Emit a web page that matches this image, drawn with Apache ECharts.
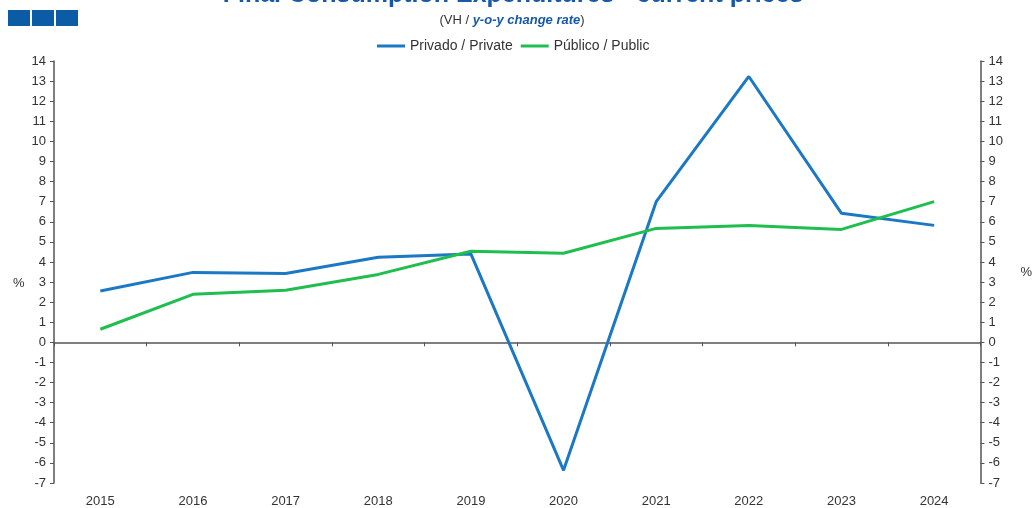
<!DOCTYPE html>
<html>
<head>
<meta charset="utf-8">
<script src="https://cdn.jsdelivr.net/npm/echarts@6/dist/echarts.min.js"></script>
<style>
html, body { margin: 0; padding: 0; background: #fff; }
#chart { width: 1035px; height: 508px; }
</style>
</head>
<body>
<div id="chart"></div>
<script>
// data
const years = ['2015', '2016', '2017', '2018', '2019', '2020', '2021', '2022', '2023', '2024'];
const privado = [2.55, 3.48, 3.43, 4.23, 4.4, -6.37, 7.0, 13.23, 6.42, 5.82];
const publico = [0.65, 2.39, 2.59, 3.38, 4.53, 4.43, 5.67, 5.82, 5.62, 7.0];
const yMin = -7, yMax = 14, yStep = 1;

var myChart = echarts.init(document.getElementById('chart'));
const font = 'Liberation Sans, Arial, sans-serif';

const yAxisBase = {
    type: 'value',
    min: yMin,
    max: yMax,
    interval: yStep,
    nameLocation: 'middle',
    nameRotate: 0,
    splitLine: { show: false },
    axisLine: { show: true, lineStyle: { color: '#555', width: 1.5 } },
    axisTick: { show: true, length: 4, lineStyle: { color: '#555' } },
    axisLabel: { color: '#333', fontSize: 13, fontFamily: font, margin: 8 }
};

myChart.setOption({
    animation: false,
    title: [
        {
            text: 'Final Consumption Expenditures - current prices',
            left: 508,
            textAlign: 'center',
            top: -22,
            textStyle: { color: '#1659a6', fontSize: 25, fontWeight: 'bold', fontFamily: font }
        },
        {
            text: '{a|(VH / }{b|y-o-y change rate}{a|)}',
            left: 507,
            textAlign: 'center',
            top: 9,
            textStyle: {
                rich: {
                    a: { color: '#333', fontSize: 13, fontFamily: font, fontWeight: 'normal' },
                    b: { color: '#1659a6', fontSize: 13, fontFamily: font, fontWeight: 'bold', fontStyle: 'italic' }
                }
            }
        }
    ],
    graphic: [
        { type: 'rect', shape: { x: 8, y: 10, width: 22, height: 16 }, style: { fill: '#0b5ca5' } },
        { type: 'rect', shape: { x: 32, y: 10, width: 22, height: 16 }, style: { fill: '#0b5ca5' } },
        { type: 'rect', shape: { x: 56, y: 10, width: 22, height: 16 }, style: { fill: '#0b5ca5' } },
        {
            type: 'text', left: 13, top: 277,
            style: { text: '%', fill: '#333', font: '13px ' + font }
        }
    ],
    legend: {
        top: 34,
        left: 372,
        itemWidth: 28,
        itemHeight: 3,
        itemGap: 8,
        icon: 'rect',
        textStyle: { color: '#333', fontSize: 14, fontFamily: font }
    },
    grid: {
        left: 54,
        right: 52,
        top: 61,
        bottom: 25
    },
    xAxis: [
        {
            type: 'category',
            data: years,
            boundaryGap: true,
            axisLine: { onZero: true, lineStyle: { color: '#555', width: 1.5 } },
            axisTick: { show: true, length: 4, lineStyle: { color: '#555' } },
            axisLabel: { show: false }
        },
        {
            type: 'category',
            data: years,
            position: 'bottom',
            boundaryGap: true,
            axisLine: { show: false, onZero: false },
            axisTick: { show: false },
            axisLabel: { color: '#333', fontSize: 13, fontFamily: font, margin: 12 }
        }
    ],
    yAxis: [
        Object.assign({}, yAxisBase, { position: 'left' }),
        Object.assign({}, yAxisBase, {
            position: 'right',
            name: '%',
            nameGap: 40,
            nameTextStyle: { color: '#333', fontSize: 13, fontFamily: font }
        })
    ],
    series: [
        {
            name: 'Privado / Private',
            type: 'line',
            data: privado,
            showSymbol: false,
            lineStyle: { color: '#1a78c4', width: 3 },
            itemStyle: { color: '#1a78c4' }
        },
        {
            name: 'Público / Public',
            type: 'line',
            data: publico,
            showSymbol: false,
            lineStyle: { color: '#1fbe4f', width: 3 },
            itemStyle: { color: '#1fbe4f' }
        }
    ]
});
</script>
</body>
</html>
